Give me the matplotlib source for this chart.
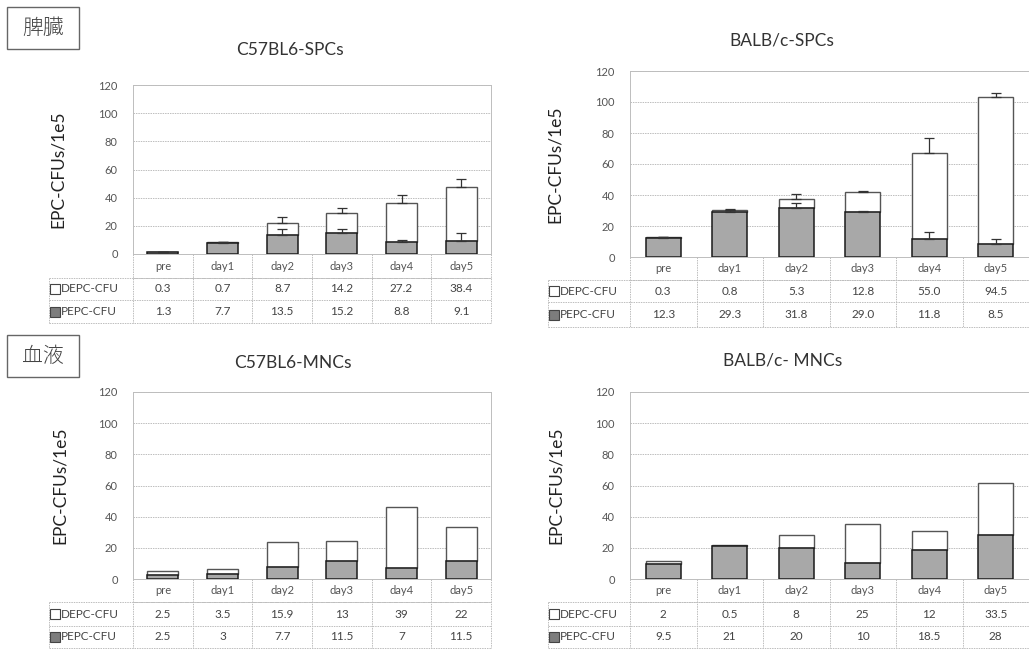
import numpy as np
import matplotlib
matplotlib.use("Agg")
import matplotlib.pyplot as plt
from matplotlib.patches import Rectangle
from matplotlib.transforms import blended_transform_factory

plt.rcParams['font.family'] = ['Lato', 'Noto Sans CJK JP', 'DejaVu Sans']

W, H = 1029, 650

days = ['pre', 'day1', 'day2', 'day3', 'day4', 'day5']
yticks = [0, 20, 40, 60, 80, 100, 120]
row_names = ['DEPC-CFU', 'PEPC-CFU']

# spleen
c57_spc_depc = [0.3, 0.7, 8.7, 14.2, 27.2, 38.4]
c57_spc_pepc = [1.3, 7.7, 13.5, 15.2, 8.8, 9.1]
c57_spc_depc_err = [0.0, 0.0, 4.0, 3.0, 6.0, 6.0]
c57_spc_pepc_err = [0.3, 1.0, 4.0, 2.4, 1.0, 5.5]

balb_spc_depc = [0.3, 0.8, 5.3, 12.8, 55.0, 94.5]
balb_spc_pepc = [12.3, 29.3, 31.8, 29.0, 11.8, 8.5]
balb_spc_depc_err = [0.5, 1.0, 3.4, 0.7, 10.0, 3.0]
balb_spc_pepc_err = [0.5, 1.0, 3.0, 0.5, 4.2, 3.0]

# blood
c57_mnc_depc = [2.5, 3.5, 15.9, 13, 39, 22]
c57_mnc_pepc = [2.5, 3, 7.7, 11.5, 7, 11.5]

balb_mnc_depc = [2, 0.5, 8, 25, 12, 33.5]
balb_mnc_pepc = [9.5, 21, 20, 10, 18.5, 28]

GRID = '#bdbdbd'
TXT = '#444444'


def px_rect(l, t, r, b):
    return [l / W, 1 - b / H, (r - l) / W, (b - t) / H]


def draw_panel(fig, box, table_left, rows, title, title_xy, ylab_x,
               depc, pepc, fmt, depc_err=None, pepc_err=None):
    l, t, r, b = box
    ax = fig.add_axes(px_rect(l, t, r, b))
    x = np.arange(len(days))
    depc = np.asarray(depc, float)
    pepc = np.asarray(pepc, float)

    ax.bar(x, depc, bottom=pepc, width=0.52, color='white',
           edgecolor='#555555', lw=1.0, zorder=2)
    ax.bar(x, pepc, width=0.52, color='#a8a8a8',
           edgecolor='#1a1a1a', lw=1.1, zorder=3)
    zeros = np.zeros(len(x))
    if pepc_err is not None:
        ax.errorbar(x, pepc, yerr=[zeros, pepc_err], fmt='none',
                    ecolor='#333333', elinewidth=0.9, capsize=3.5,
                    capthick=0.9, zorder=4)
    if depc_err is not None:
        ax.errorbar(x, pepc + depc, yerr=[zeros, depc_err], fmt='none',
                    ecolor='#333333', elinewidth=0.9, capsize=3.5,
                    capthick=0.9, zorder=4)

    ax.set_xlim(-0.5, len(x) - 0.5)
    ax.set_ylim(0, 120)
    ax.set_yticks(yticks)
    ax.set_xticks([])
    ax.yaxis.grid(True, color=GRID, lw=0.7, ls=(0, (1.5, 1)))
    ax.set_axisbelow(True)
    ax.tick_params(axis='y', length=0, pad=11, labelsize=8, labelcolor='#555555')
    for s in ax.spines.values():
        s.set_color(GRID)
        s.set_linewidth(0.7)
    ax.spines['top'].set_linestyle((0, (1.5, 1)))

    # data table under the bars
    hpx = b - t
    col_px = (r - l) / len(x)
    x_left = -0.5 - (l - table_left) / col_px
    x_right = len(x) - 0.5
    tr = blended_transform_factory(ax.transData, ax.transAxes)
    y1 = -rows[0] / hpx
    y2 = y1 - rows[1] / hpx
    y3 = y2 - rows[2] / hpx
    lk = dict(color=GRID, lw=0.7, transform=tr, clip_on=False, ls=(0, (1.5, 1)))
    ax.plot([-0.5, x_right], [y1, y1], **lk)
    ax.plot([x_left, x_right], [y1, y1], **lk)
    ax.plot([x_left, x_right], [y2, y2], **lk)
    ax.plot([x_left, x_right], [y3, y3], **lk)
    for i in range(len(x) + 1):
        ax.plot([i - 0.5, i - 0.5], [0, y3], **lk)
    ax.plot([x_left, x_left], [y1, y3], **lk)

    for i, d in enumerate(days):
        ax.text(i, y1 / 2, d, transform=tr, ha='center', va='center',
                fontsize=8, color='#555555')
        ax.text(i, (y1 + y2) / 2, fmt % depc[i], transform=tr, ha='center',
                va='center', fontsize=8.5, color=TXT)
        ax.text(i, (y2 + y3) / 2, fmt % pepc[i], transform=tr, ha='center',
                va='center', fontsize=8.5, color=TXT)

    mk_x = x_left + 6 / col_px
    for yy, name, fc in [((y1 + y2) / 2, row_names[0], 'white'),
                         ((y2 + y3) / 2, row_names[1], '#7d7d7d')]:
        ax.plot([mk_x], [yy], marker='s', ms=6.5, mfc=fc, mec='#444444',
                mew=0.8, transform=tr, clip_on=False)
        ax.text(mk_x + 6 / col_px, yy, name, transform=tr, ha='left',
                va='center', fontsize=8.5, color=TXT)

    fig.text(title_xy[0] / W, 1 - title_xy[1] / H, title, ha='center',
             va='center', fontsize=12.5, color='#333333')
    fig.text(ylab_x / W, 1 - (t + b) / 2 / H, 'EPC-CFUs/1e5', rotation=90,
             ha='center', va='center', fontsize=12.5, color='#222222')
    return ax


def label_box(fig, l, t, r, b, text):
    fig.add_artist(Rectangle((l / W, 1 - b / H), (r - l) / W, (b - t) / H,
                             transform=fig.transFigure, fill=False,
                             ec='#666666', lw=1.0))
    fig.text((l + r) / 2 / W, 1 - (t + b) / 2 / H, text, ha='center',
             va='center', fontsize=15, color='#444444',
             family=['Noto Sans CJK JP'], fontweight='light')


fig = plt.figure(figsize=(W / 100, H / 100), dpi=100)

draw_panel(fig, (133, 85, 491, 254), 49, (24, 22, 23), 'C57BL6-SPCs',
           (290, 50), 58, c57_spc_depc, c57_spc_pepc, '%.1f',
           c57_spc_depc_err, c57_spc_pepc_err)
draw_panel(fig, (630, 71, 1029, 257), 548, (23, 22, 25), 'BALB/c-SPCs',
           (782, 40), 555, balb_spc_depc, balb_spc_pepc, '%.1f',
           balb_spc_depc_err, balb_spc_pepc_err)
draw_panel(fig, (133, 392, 491, 579), 49, (23, 24, 22), 'C57BL6-MNCs',
           (293, 363), 60, c57_mnc_depc, c57_mnc_pepc, '%g')
draw_panel(fig, (630, 392, 1029, 579), 548, (23, 24, 22), 'BALB/c- MNCs',
           (783, 360), 556, balb_mnc_depc, balb_mnc_pepc, '%g')

label_box(fig, 7, 7, 79, 49, '脾臓')
label_box(fig, 7, 335, 79, 377, '血液')

fig.savefig('out.png', dpi=100)
